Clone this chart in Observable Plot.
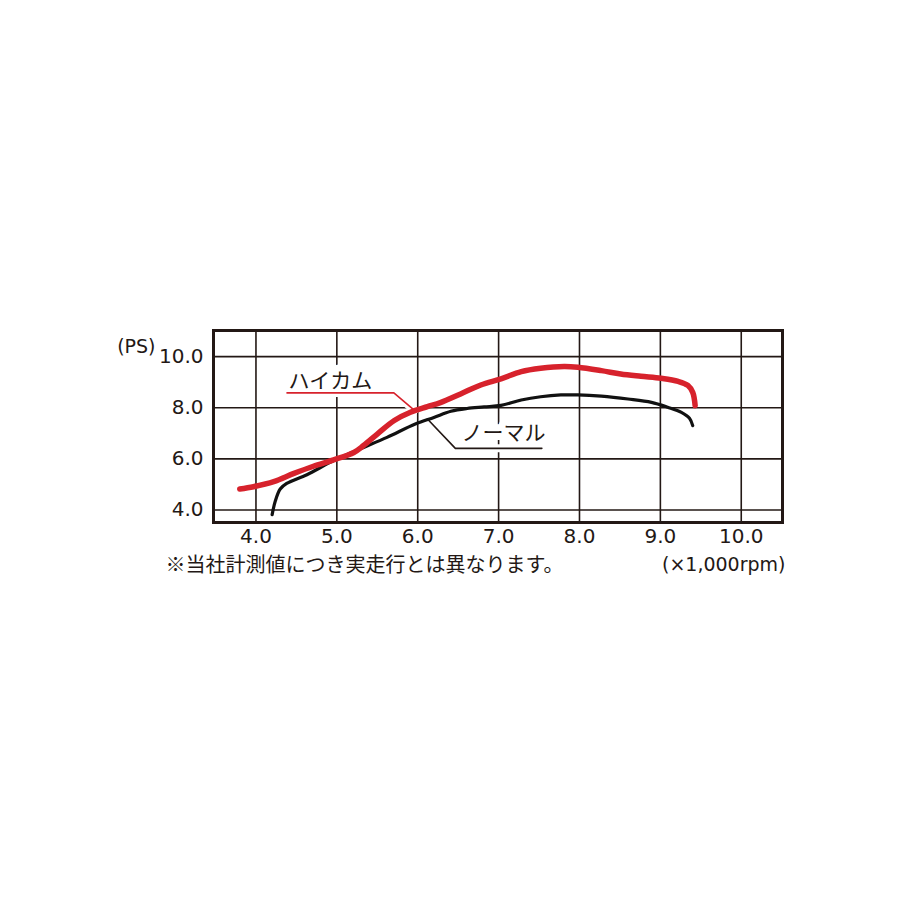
<!DOCTYPE html>
<html>
<head>
<meta charset="utf-8">
<script src="https://cdn.jsdelivr.net/npm/d3@7"></script>
<script src="https://cdn.jsdelivr.net/npm/@observablehq/plot@0.6"></script>
<style>
  html, body { margin: 0; padding: 0; background: #fff; }
  #chart svg { display: block; }
</style>
</head>
<body>
<div id="chart"></div>
<script>
// RPM (x1,000) and power (PS)
const hicamRpm = [3.80, 3.97, 4.22, 4.47, 4.71, 4.96, 5.21, 5.33, 5.50, 5.71, 5.91, 6.12, 6.28, 6.53, 6.78, 7.03, 7.28, 7.52, 7.81, 7.98, 8.27, 8.51, 8.76, 9.01, 9.22, 9.34, 9.40, 9.43];
const hicamPs  = [4.82, 4.91, 5.11, 5.43, 5.71, 5.96, 6.25, 6.52, 6.97, 7.50, 7.82, 8.04, 8.20, 8.54, 8.89, 9.13, 9.41, 9.54, 9.61, 9.58, 9.45, 9.32, 9.23, 9.15, 9.03, 8.87, 8.60, 8.08];
const normalRpm = [4.20, 4.24, 4.30, 4.38, 4.63, 4.96, 5.29, 5.62, 5.97, 6.20, 6.41, 6.61, 6.82, 7.03, 7.28, 7.52, 7.77, 7.98, 8.27, 8.60, 8.89, 9.09, 9.26, 9.36, 9.40];
const normalPs  = [3.82, 4.36, 4.82, 5.04, 5.38, 5.93, 6.39, 6.84, 7.36, 7.62, 7.86, 7.97, 8.03, 8.09, 8.30, 8.43, 8.50, 8.50, 8.45, 8.34, 8.21, 8.02, 7.82, 7.59, 7.30];

const xTicks = [4, 5, 6, 7, 8, 9, 10];
const yTicks = [4, 6, 8, 10];

const seriesNames = ["ハイカム", "ノーマル"];
// label anchor positions (rpm, PS) and leader polylines
const labelRpm = [4.92, 7.06];
const labelPs = [9.05, 6.99];
const hicamLeaderRpm = [4.384, 5.705, 5.96];
const hicamLeaderPs = [8.58, 8.58, 7.90];
const normalLeaderRpm = [6.12, 6.465, 7.535];
const normalLeaderPs = [7.56, 6.41, 6.41];

const xUnit = "(×1,000rpm)";
const yUnit = "(PS)";
const footnote = "※当社計測値につき実走行とは異なります。";

const hicam = hicamRpm.map((x, i) => ({x, y: hicamPs[i]}));
const normal = normalRpm.map((x, i) => ({x, y: normalPs[i]}));
const hicamLeader = hicamLeaderRpm.map((x, i) => ({x, y: hicamLeaderPs[i]}));
const normalLeader = normalLeaderRpm.map((x, i) => ({x, y: normalLeaderPs[i]}));
const labels = seriesNames.map((name, i) => ({name, x: labelRpm[i], y: labelPs[i]}));

const ink = "#231815";
const red = "#d7222c";
const latin = "'DejaVu Sans', sans-serif";
const cjk = "'Noto Sans CJK JP', sans-serif";

const chart = Plot.plot({
  width: 900,
  height: 900,
  marginLeft: 213,
  marginRight: 118,
  marginTop: 330,
  marginBottom: 378,
  style: {fontFamily: latin, fontSize: "20px", color: ink, background: "#fff"},
  x: {domain: [3.475, 10.51]},
  y: {domain: [3.51, 11.02]},
  marks: [
    Plot.gridX(xTicks, {stroke: ink, strokeOpacity: 1, strokeWidth: 1.6}),
    Plot.gridY(yTicks, {stroke: ink, strokeOpacity: 1, strokeWidth: 1.6}),
    // white boxes behind labels (interrupting grid)
    Plot.text(labels, {x: "x", y: "y", text: "name", fill: "white", stroke: "white", strokeWidth: 14, fontSize: 21, fontFamily: cjk}),
    Plot.line(hicamLeader, {x: "x", y: "y", stroke: "white", strokeWidth: 8}),
    Plot.line(normalLeader, {x: "x", y: "y", stroke: "white", strokeWidth: 8}),
    Plot.line(hicamLeader, {x: "x", y: "y", stroke: red, strokeWidth: 1.6}),
    Plot.line(normalLeader, {x: "x", y: "y", stroke: ink, strokeWidth: 1.6}),
    Plot.text(labels, {x: "x", y: "y", text: "name", fill: ink, fontSize: 21, fontFamily: cjk}),
    Plot.line(normal, {x: "x", y: "y", stroke: "#111", strokeWidth: 3.2, curve: "catmull-rom", strokeLinecap: "round"}),
    Plot.line(hicam, {x: "x", y: "y", stroke: red, strokeWidth: 5.5, curve: "catmull-rom", strokeLinecap: "round"}),
    Plot.frame({stroke: ink, strokeWidth: 3}),
    Plot.axisX(xTicks, {tickSize: 0, tickPadding: 6, tickFormat: d3.format(".1f"), label: null, fontSize: 20}),
    Plot.axisY(yTicks, {tickSize: 0, tickPadding: 10, tickFormat: d3.format(".1f"), label: null, fontSize: 20}),
    Plot.text([yUnit], {frameAnchor: "top-left", dx: -58, dy: 9, textAnchor: "end", fontSize: 19, fill: ink}),
    Plot.text([xUnit], {frameAnchor: "bottom-right", dx: 3, dy: 48, textAnchor: "end", fontSize: 19, fill: ink}),
    Plot.text([footnote], {frameAnchor: "bottom-left", dx: -48, dy: 49, textAnchor: "start", fontSize: 20, fill: ink, fontFamily: cjk})
  ]
});
document.getElementById("chart").append(chart);
</script>
</body>
</html>
